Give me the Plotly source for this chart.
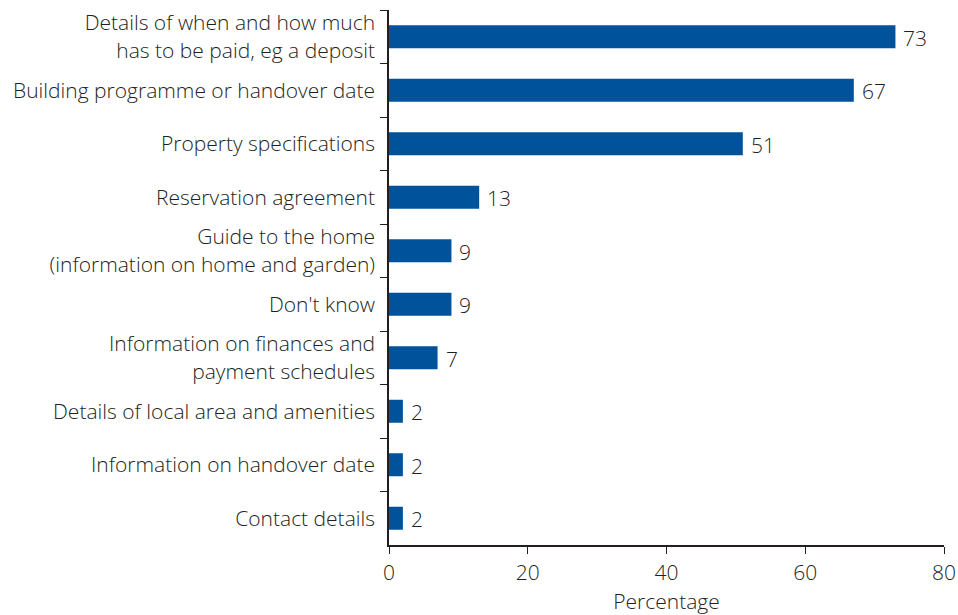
import plotly.graph_objects as go

categories = [
    "Details of when and how much<br>has to be paid, eg a deposit",
    "Building programme or handover date",
    "Property specifications",
    "Reservation agreement",
    "Guide to the home<br>(information on home and garden)",
    "Don't know",
    "Information on finances and<br>payment schedules",
    "Details of local area and amenities",
    "Information on handover date",
    "Contact details",
]
percentages = [73, 67, 51, 13, 9, 9, 7, 2, 2, 2]
x_ticks = [0, 20, 40, 60, 80]

BAR_COLOR = "#00529B"
TEXT_COLOR = "#231F20"
FONT = "Open Sans"
SIZE = 21
WEIGHT = 300

fig = go.Figure(
    go.Bar(
        y=categories,
        x=percentages,
        orientation="h",
        marker=dict(color=BAR_COLOR, line=dict(width=0)),
        width=0.43,
        hoverinfo="x+y",
    )
)

# value labels just past the end of each bar
for cat, val in zip(categories, percentages):
    fig.add_annotation(
        x=val, y=cat, text=str(val), showarrow=False,
        xanchor="left", yanchor="middle", xshift=6, yshift=-1,
        font=dict(family=FONT, size=SIZE, color=TEXT_COLOR, weight=WEIGHT),
    )

fig.update_layout(
    width=958,
    height=615,
    margin=dict(l=389, r=14, t=10, b=70),
    plot_bgcolor="white",
    paper_bgcolor="white",
    font=dict(family=FONT, size=SIZE, color=TEXT_COLOR, weight=WEIGHT),
    showlegend=False,
    xaxis=dict(
        range=[0, 80],
        tickvals=x_ticks,
        ticktext=[str(t) for t in x_ticks],
        ticks="outside",
        ticklen=7,
        tickcolor=TEXT_COLOR,
        showline=True,
        linecolor=TEXT_COLOR,
        linewidth=1.5,
        showgrid=False,
        zeroline=False,
        automargin=False,
        tickfont=dict(size=SIZE, weight=WEIGHT),
        ticklabelstandoff=1,
        title=dict(text="Percentage", font=dict(size=SIZE, weight=WEIGHT), standoff=11),
    ),
    yaxis=dict(
        autorange="reversed",
        tickson="boundaries",
        ticks="outside",
        ticklen=7,
        tickcolor=TEXT_COLOR,
        showline=True,
        linecolor=TEXT_COLOR,
        linewidth=1.5,
        showgrid=False,
        automargin=False,
        tickfont=dict(size=SIZE, weight=WEIGHT),
        ticklabelstandoff=8,
    ),
)

fig.write_html("out.html")
